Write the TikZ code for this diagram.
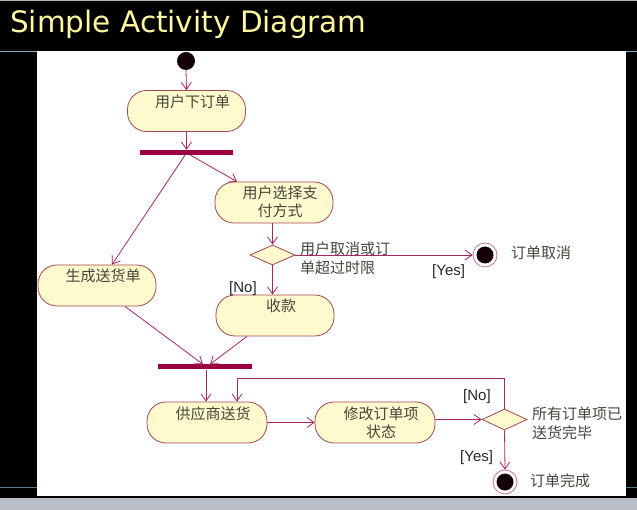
\documentclass[tikz,border=0pt]{standalone}
\usepackage{fontspec}
\usetikzlibrary{shapes.geometric,arrows.meta}
\newfontfamily\cjk{Noto Sans CJK SC}
\newfontfamily\titlefont{DejaVu Sans}
\setsansfont{Liberation Sans}
\definecolor{boxfill}{RGB}{255,250,205}
\definecolor{boxdraw}{RGB}{165,70,85}
\definecolor{linec}{RGB}{165,40,100}
\definecolor{barc}{RGB}{155,0,65}
\definecolor{txt}{RGB}{70,70,60}
\definecolor{guardc}{RGB}{40,40,40}
\definecolor{ringc}{RGB}{205,115,145}
\definecolor{startc}{RGB}{20,0,8}
\definecolor{titlec}{RGB}{255,248,160}
\definecolor{stripc}{RGB}{186,189,200}
\definecolor{edgec}{RGB}{120,175,190}
\newcommand\pushr{\hspace*{12pt}}
\begin{document}
\begin{tikzpicture}[x=1pt,y=-1pt,
  act/.style={draw=boxdraw, fill=boxfill, rounded corners=19pt, line width=0.8pt,
    minimum width=118pt, minimum height=41pt, inner ysep=0pt, inner xsep=2pt,
    text height=17pt, text depth=24pt, align=center, text=txt,
    font=\cjk\fontsize{15}{18}\selectfont},
  twoline/.style={text height=35pt, text depth=6pt},
  bar/.style={fill=barc, minimum width=93pt, minimum height=5pt, inner sep=0pt},
  dec/.style={diamond, draw=boxdraw, fill=boxfill, line width=0.8pt,
    minimum width=45pt, minimum height=20pt, inner sep=0pt},
  startnode/.style={circle, fill=startc, minimum size=18pt, inner sep=0pt},
  finalnode/.style={circle, draw=ringc, fill=white, line width=0.8pt,
    minimum size=24pt, inner sep=0pt,
    path picture={\fill[startc] (path picture bounding box.center) circle[radius=8.5pt];}},
  flow/.style={draw=linec, line width=0.8pt, -{Straight Barb[length=7pt,width=10pt]}},
  lbl/.style={anchor=base west, inner sep=0pt, align=left, text=txt,
    font=\cjk\fontsize{15}{19}\selectfont},
  guard/.style={anchor=base west, inner sep=0pt, text=guardc,
    font=\sffamily\fontsize{15}{18}\selectfont}
]
% background
\useasboundingbox (0,0) rectangle (637,510);
\fill[black] (0,0) rectangle (637,510);
\fill[white] (37,51) rectangle (626,496);
\fill[stripc] (0,498) rectangle (637,510);
\draw[gray!60, line width=0.8pt] (0,0.4) -- (637,0.4);
\draw[edgec, line width=0.8pt] (0,51) -- (37,51);
\draw[edgec, line width=0.8pt] (626,51) -- (637,51);
\draw[edgec!70!black, line width=0.8pt] (0,487) -- (37,487);
\draw[edgec!70!black, line width=0.8pt] (626,487) -- (637,487);

% title
\node[anchor=base west, inner sep=0pt, text=titlec,
  font=\titlefont\fontsize{29.5}{34}\selectfont] (title) at (10,32.5) {Simple Activity Diagram};

% nodes
\node[startnode] (start) at (186,61) {};
\node[act] (order) at (186.5,111) {\pushr 用户下订单};
\node[bar] (fork1) at (186.5,152.5) {};
\node[act, twoline] (choose) at (274,202.5) {\pushr 用户选择支\\\pushr 付方式};
\node[dec] (d1) at (272.5,255) {};
\node[finalnode] (cancel) at (485,255) {};
\node[act] (pay) at (275,315.5) {\pushr 收款};
\node[act] (gen) at (97,285.5) {\pushr 生成送货单};
\node[bar, minimum width=94pt] (fork2) at (205,367) {};
\node[act, minimum width=120pt] (supply) at (207,422.5) {\pushr 供应商送货};
\node[act, twoline, minimum width=120pt] (modify) at (375,422.5) {\pushr 修改订单项\\\pushr 状态};
\node[dec, minimum height=21pt] (d2) at (504.5,419.5) {};
\node[finalnode] (done) at (505,482) {};

% labels
\node[lbl] (c1) at (300,274) {用户取消或订\\单超过时限};
\node[lbl] (t1) at (511,259) {订单取消};
\node[lbl] (c2) at (532,438) {所有订单项已\\送货完毕};
\node[lbl] (t2) at (530,486) {订单完成};
\node[guard] (yes1) at (432,276) {[Yes]};
\node[guard] (no1) at (229,293) {[No]};
\node[guard] (no2) at (463,400) {[No]};
\node[guard] (yes2) at (460,461) {[Yes]};

% connectors
\draw[flow] (start.south) -- (order.north);
\draw[flow] (order.south) -- (fork1.north);
\draw[flow] ([xshift=-1.5pt]fork1.south) -- ([xshift=15pt]gen.north);
\draw[flow] ([xshift=4pt]fork1.south) -- ([xshift=-37pt]choose.north);
\draw[flow] (choose.south -| d1.north) -- (d1.north);
\draw[flow] (d1.east) -- (cancel.west);
\draw[flow] (d1.south) -- (d1.south |- pay.north);
\draw[flow] ([xshift=28pt]gen.south) -- ([xshift=-2pt]fork2.north);
\draw[flow] ([xshift=-28pt]pay.south) -- ([xshift=5pt]fork2.north);
\draw[flow] ([xshift=1pt]fork2.south) -- ([xshift=1pt]fork2.south |- supply.north);
\draw[flow] (supply.east) -- (modify.west);
\draw[flow] (modify.east |- d2.west) -- (d2.west);
\draw[flow] (d2.north) -- ++(0,-30) -| ([xshift=30pt]supply.north);
\draw[flow] (d2.south) -- (done.north);
\end{tikzpicture}
\end{document}
